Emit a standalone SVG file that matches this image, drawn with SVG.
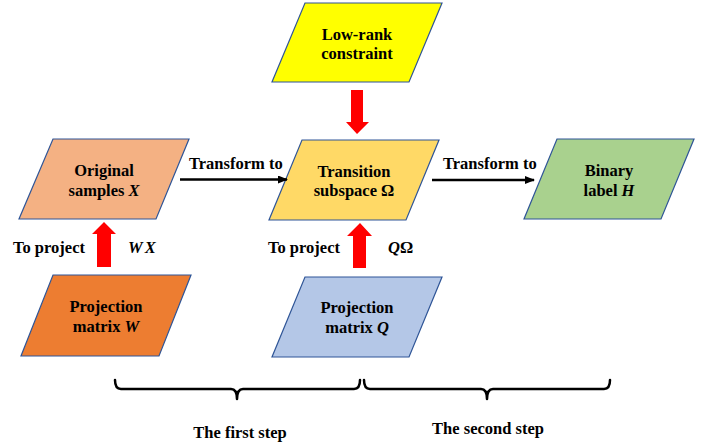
<svg xmlns="http://www.w3.org/2000/svg" width="710" height="447" viewBox="0 0 710 447">
<defs>
<style>
.node{stroke:#2F5597;stroke-width:1.2}
.t{font-family:"Liberation Serif","Times New Roman",serif;font-weight:bold;font-size:16.5px;fill:#000}
.c{text-anchor:middle}
.m{font-style:italic}
.conn{stroke:#000;stroke-width:2.5;fill:none}
.red{fill:#FF0000}
.br{stroke:#000;stroke-width:2.5;fill:none;stroke-linejoin:round;stroke-linecap:round}
</style>
<marker id="ah" markerWidth="10" markerHeight="8" refX="9" refY="4" orient="auto" markerUnits="userSpaceOnUse">
<path d="M0,0 L10,4 L0,8 z" fill="#000"/>
</marker>
</defs>
<rect width="710" height="447" fill="#fff"/>

<g id="lowrank">
<polygon class="node" points="305,3 442,3 409,82 272,82" fill="#FFFF00"/>
<text class="t c" x="357" y="39.5">Low-rank</text>
<text class="t c" x="357" y="58.5">constraint</text>
</g>

<g id="original">
<polygon class="node" points="53,139 189,139 156,219 19,219" fill="#F4B183"/>
<text class="t c" x="104" y="176">Original</text>
<text class="t c" x="104" y="195.5">samples <tspan class="m">X</tspan></text>
</g>

<g id="transition">
<polygon class="node" points="302,140 439,140 406,220 269,220" fill="#FFD966"/>
<text class="t c" x="354" y="176.5">Transition</text>
<text class="t c" x="354" y="196">subspace Ω</text>
</g>

<g id="binary">
<polygon class="node" points="557,139 694,139 661,219 524,219" fill="#A9D18E"/>
<text class="t c" x="609" y="175.5">Binary</text>
<text class="t c" x="609" y="195.5">label <tspan class="m">H</tspan></text>
</g>

<g id="projW">
<polygon class="node" points="53,275 191,275 159,356 21,356" fill="#ED7D31"/>
<text class="t c" x="106" y="312">Projection</text>
<text class="t c" x="106" y="332">matrix <tspan class="m">W</tspan></text>
</g>

<g id="projQ">
<polygon class="node" points="305,277 442,277 409,357 272,357" fill="#B4C7E7"/>
<text class="t c" x="357" y="312.5">Projection</text>
<text class="t c" x="357" y="332.5">matrix <tspan class="m">Q</tspan></text>
</g>

<g id="connectors">
<line class="conn" x1="180" y1="179.5" x2="287" y2="179.5" marker-end="url(#ah)"/>
<line class="conn" x1="432" y1="180" x2="534" y2="180" marker-end="url(#ah)"/>
<polygon class="red" points="351,90 363,90 363,122 369,122 357,134 346,122 351,122"/>
<polygon class="red" points="97,267 111,267 111,234 116,234 104,222 92,234 97,234"/>
<polygon class="red" points="353,268 366,268 366,236 372,236 360,223 347,236 353,236"/>
<text class="t" x="189" y="169">Transform to</text>
<text class="t" x="443" y="169">Transform to</text>
<text class="t" x="13" y="252.5">To project</text>
<text class="t m" x="128" y="252.5" letter-spacing="2">WX</text>
<text class="t" x="268" y="252.5">To project</text>
<text class="t" x="388" y="252.5"><tspan class="m">Q</tspan>Ω</text>
</g>

<g id="brackets">
<path class="br" d="M115,380 Q115,389 121,389 L231,389 Q237,389 237,399 Q237,389 243,389 L354,389 Q360,389 360,380"/>
<path class="br" d="M364,380 Q364,389 370,389 L481,389 Q487,389 487,399 Q487,389 493,389 L604,389 Q610,389 610,380"/>
<text class="t c" x="240" y="438">The first step</text>
<text class="t c" x="488" y="434">The second step</text>
</g>
</svg>
